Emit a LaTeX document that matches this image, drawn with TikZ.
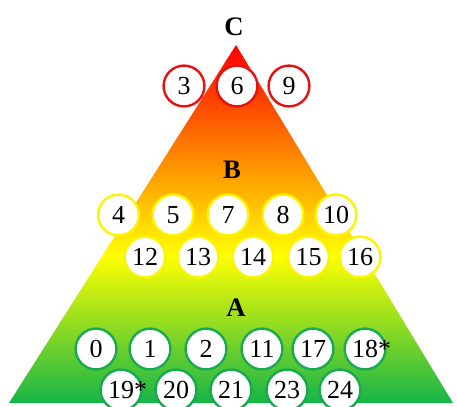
\documentclass[tikz,border=0pt]{standalone}
\usepackage{fontspec}
\setmainfont{Liberation Serif}
\definecolor{gbot}{RGB}{22,180,72}
\definecolor{ringred}{RGB}{232,16,16}
\definecolor{ringyel}{RGB}{252,244,0}
\definecolor{ringgrn}{RGB}{24,170,82}
\pgfdeclareverticalshading{trishade}{100bp}{color(0bp)=(gbot); color(25bp)=(gbot); color(45.6bp)=(yellow); color(75bp)=(red); color(100bp)=(red)}
\tikzset{
  ball/.style={circle, draw, fill=white, line width=1.8pt, minimum size=30.6pt, inner sep=0pt, font=\fontsize{19.5}{19.5}\selectfont, text=black},
  cball/.style={ball, draw=ringred},
  bball/.style={ball, draw=ringyel},
  aball/.style={ball, draw=ringgrn},
  lvl/.style={font=\fontsize{20}{20}\selectfont\bfseries, text=black, inner sep=0pt}
}
\begin{document}
\begin{tikzpicture}[x=0.75pt,y=-0.75pt]
\clip (0,0) rectangle (457,407);
\fill[white] (0,0) rectangle (457,407);
\coordinate (tl) at (9,403);
\coordinate (tr) at (453,403);
\coordinate (tt) at (236,45);
\path[shading=trishade] (tl) -- (tr) -- (tt) -- cycle;
% labels
\node[lvl] (lc) at (234,27) {C};
\node[lvl] (lb) at (232,170) {B};
\node[lvl] (la) at (236,308) {A};
% C row
\node[cball] (n3) at (184,86) {3};
\node[cball] (n6) at (237,86) {6};
\node[cball] (n9) at (289,86) {9};
% B rows
\node[bball] (n4) at (118.5,215) {4};
\node[bball] (n5) at (173,215) {5};
\node[bball] (n7) at (228,215) {7};
\node[bball] (n8) at (283,215) {8};
\node[bball] (n10) at (336,215) {10};
\node[bball] (n12) at (145,257) {12};
\node[bball] (n13) at (198,257) {13};
\node[bball] (n14) at (253,257) {14};
\node[bball] (n15) at (308.5,257) {15};
\node[bball] (n16) at (360,257) {16};
% A rows
\node[aball] (n0) at (96,349) {0};
\node[aball] (n1) at (150,349) {1};
\node[aball] (n2) at (206,349) {2};
\node[aball] (n11) at (262,349) {11};
\node[aball] (n17) at (313,349) {17};
\node[aball] (n18) at (365,349) {18\rlap{*}};
\node[aball] (n19) at (121,390) {19\rlap{*}};
\node[aball] (n20) at (176,390) {20};
\node[aball] (n21) at (231,390) {21};
\node[aball] (n23) at (287,390) {23};
\node[aball] (n24) at (340,390) {24};
\end{tikzpicture}
\end{document}
